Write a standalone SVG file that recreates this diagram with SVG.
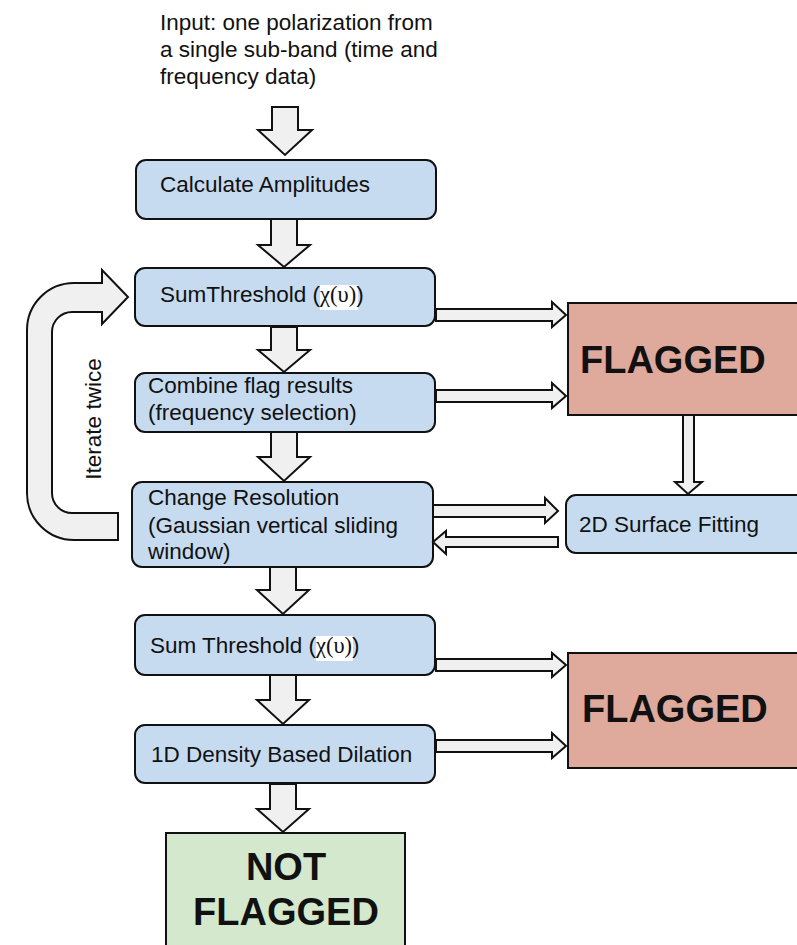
<svg xmlns="http://www.w3.org/2000/svg" width="797" height="945" viewBox="0 0 797 945">
<style>
.box{fill:#c6dbf0;stroke:#111;stroke-width:2}
.red{fill:#dfa99c;stroke:#111;stroke-width:2}
.green{fill:#d4e8cd;stroke:#111;stroke-width:2}
.arr{fill:#f0f0f0;stroke:#111;stroke-width:2;stroke-linejoin:miter}
.t{font-family:"Liberation Sans",Arial,sans-serif;font-size:22.5px;fill:#111}
.b{font-family:"Liberation Sans",Arial,sans-serif;font-size:38px;font-weight:bold;fill:#111}
.s{font-family:"Liberation Serif","Times New Roman",serif}
</style>
<rect width="797" height="945" fill="#fff"/>
<g id="input">
<text class="t" x="160" y="30">Input: one polarization from</text>
<text class="t" x="160" y="57">a single sub-band (time and</text>
<text class="t" x="160" y="84">frequency data)</text>
</g>
<g id="calc">
<rect class="box" x="136" y="160" width="300" height="59" rx="10"/>
<text class="t" x="160" y="192">Calculate Amplitudes</text>
</g>
<g id="sum1">
<rect class="box" x="135" y="268" width="300" height="58" rx="10"/>
<rect x="320" y="285" width="38" height="25" fill="#fff"/>
<text class="t" x="160" y="302">SumThreshold (<tspan class="s">χ(υ)</tspan>)</text>
</g>
<g id="combine">
<rect class="box" x="135" y="373" width="300" height="59" rx="10"/>
<text class="t" x="148" y="393">Combine flag results</text>
<text class="t" x="148" y="420">(frequency selection)</text>
</g>
<g id="change">
<rect class="box" x="132" y="482" width="301" height="85" rx="10"/>
<text class="t" x="148" y="505">Change Resolution</text>
<text class="t" x="148" y="533">(Gaussian vertical sliding</text>
<text class="t" x="148" y="559">window)</text>
</g>
<g id="sum2">
<rect class="box" x="135" y="615" width="300" height="60" rx="10"/>
<rect x="316" y="636" width="37" height="25" fill="#fff"/>
<text class="t" x="150" y="653">Sum Threshold (<tspan class="s">χ(υ)</tspan>)</text>
</g>
<g id="dilation">
<rect class="box" x="135" y="725" width="300" height="58" rx="10"/>
<text class="t" x="151" y="762">1D Density Based Dilation</text>
</g>
<g id="notflagged">
<rect class="green" x="166" y="833" width="239" height="120"/>
<text class="b" x="286" y="880" text-anchor="middle">NOT</text>
<text class="b" x="286" y="925" text-anchor="middle">FLAGGED</text>
</g>
<g id="flagged1">
<rect class="red" x="568" y="303" width="240" height="112"/>
<text class="b" x="580" y="373">FLAGGED</text>
</g>
<g id="surface">
<rect class="box" x="566" y="495" width="240" height="58" rx="10"/>
<text class="t" x="579" y="532">2D Surface Fitting</text>
</g>
<g id="flagged2">
<rect class="red" x="568" y="653" width="240" height="115"/>
<text class="b" x="582" y="722">FLAGGED</text>
</g>
<g id="connectors">
<polygon class="arr" points="272,107 298,107 298,130 312,130 285,155 258,130 272,130"/>
<polygon class="arr" points="271,219 297,219 297,245 310,245 284,267 258,245 271,245"/>
<polygon class="arr" points="271,327 297,327 297,350 310,350 284,372 258,350 271,350"/>
<polygon class="arr" points="271,432 297,432 297,457 310,457 284,481 258,457 271,457"/>
<polygon class="arr" points="270,567 296,567 296,590 309,590 283,614 257,590 270,590"/>
<polygon class="arr" points="270,675 296,675 296,700 309,700 283,724 257,700 270,700"/>
<polygon class="arr" points="270,784 296,784 296,809 309,809 283,832 257,809 270,809"/>
<polygon class="arr" points="436,309 552,309 552,302 566,315 552,327 552,321 436,321"/>
<polygon class="arr" points="436,390 552,390 552,383 566,396 552,408 552,402 436,402"/>
<polygon class="arr" points="433,505 545,505 545,498 558,511 545,523 545,517 433,517"/>
<polygon class="arr" points="558,537 446,537 446,531 433,542 446,554 446,547 558,547"/>
<polygon class="arr" points="436,659 552,659 552,653 566,665 552,677 552,671 436,671"/>
<polygon class="arr" points="436,740 552,740 552,733 566,746 552,758 552,752 436,752"/>
<polygon class="arr" points="683,415 694,415 694,482 702,482 688,494 675,482 683,482"/>
<path class="arr" d="M102,283 L74,283 A47,47 0 0 0 27,330 L27,493 A47,47 0 0 0 74,540 L118,540 L118,513 L72,513 A20,20 0 0 1 52,493 L52,332 A20,20 0 0 1 72,312 L102,312 L102,324 L128,297 L102,270 Z"/>
<text class="t" x="0" y="0" text-anchor="middle" transform="translate(101,419) rotate(-90)" font-size="22">Iterate twice</text>
</g>
</svg>
